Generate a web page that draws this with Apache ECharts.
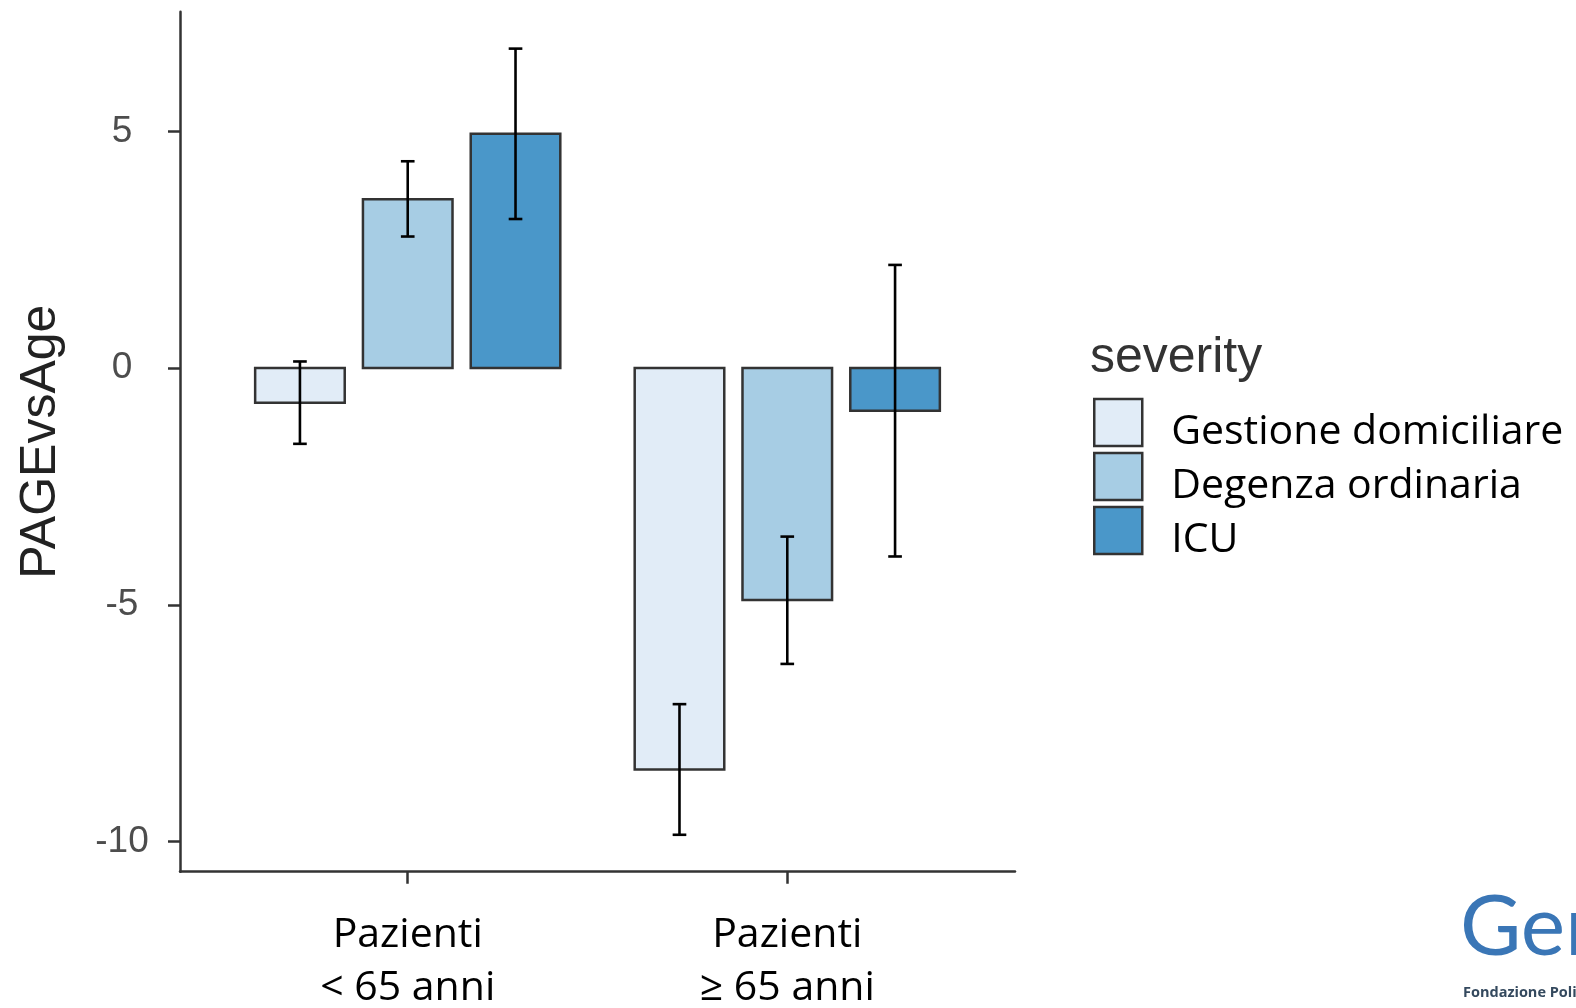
<!DOCTYPE html>
<html>
<head>
<meta charset="utf-8">
<script src="https://cdn.jsdelivr.net/npm/echarts@6/dist/echarts.min.js"></script>
<style>
  html, body { margin: 0; padding: 0; background: #ffffff; }
  #chart { width: 1576px; height: 1008px; }
</style>
</head>
<body>
<div id="chart"></div>
<script>
// Age groups on the x axis and severity classes shown as dodged bars
const groups = ['Pazienti\n< 65 anni', 'Pazienti\n≥ 65 anni'];
const severities = ['Gestione domiciliare', 'Degenza ordinaria', 'ICU'];

// Mean PAGEvsAge per group, with the lower / upper ends of the error bars
const gestioneMean = [-0.73, -8.48];
const gestioneLow  = [-1.60, -9.86];
const gestioneHigh = [0.14, -7.10];

const degenzaMean = [3.57, -4.90];
const degenzaLow  = [2.78, -6.25];
const degenzaHigh = [4.37, -3.56];

const icuMean = [4.95, -0.90];
const icuLow  = [3.15, -3.98];
const icuHigh = [6.75, 2.18];

const yTicks = [-10, -5, 0, 5];

const fills = ['#e1ecf7', '#a7cde4', '#4a97c9'];
const EDGE = '#333333';
const DODGE = 0.284;   // distance between neighbouring bars (x units)
const BAR_W = 0.236;   // bar width (x units)
const CAP_W = 0.036;   // error bar cap width (x units)

function barSeries(name, slot, mean, low, high, fill) {
  const data = mean.map((m, i) => [i + 1, m, low[i], high[i]]);
  return {
    type: 'custom',
    name: name,
    data: data,
    itemStyle: { color: fill, borderColor: EDGE, borderWidth: 2.5 },
    encode: { x: 0, y: [1, 2, 3] },
    renderItem: function (params, api) {
      const x = api.value(0) + (slot - 1) * DODGE;
      const m = api.value(1), lo = api.value(2), hi = api.value(3);
      const a = api.coord([x - BAR_W / 2, 0]);
      const b = api.coord([x + BAR_W / 2, m]);
      const top = api.coord([x, hi]);
      const bot = api.coord([x, lo]);
      const cl = api.coord([x - CAP_W / 2, hi])[0];
      const cr = api.coord([x + CAP_W / 2, hi])[0];
      const err = { stroke: '#000000', lineWidth: 2.6 };
      return {
        type: 'group',
        children: [
          {
            type: 'rect',
            shape: {
              x: Math.min(a[0], b[0]), y: Math.min(a[1], b[1]),
              width: Math.abs(b[0] - a[0]), height: Math.abs(b[1] - a[1])
            },
            style: { fill: fill, stroke: EDGE, lineWidth: 2.5 }
          },
          { type: 'line', shape: { x1: top[0], y1: top[1], x2: bot[0], y2: bot[1] }, style: err },
          { type: 'line', shape: { x1: cl, y1: top[1], x2: cr, y2: top[1] }, style: err },
          { type: 'line', shape: { x1: cl, y1: bot[1], x2: cr, y2: bot[1] }, style: err }
        ]
      };
    }
  };
}

const chart = echarts.init(document.getElementById('chart'), null, { renderer: 'canvas' });

chart.setOption({
  backgroundColor: '#ffffff',
  animation: false,
  grid: { left: 180, right: 561, top: 11.7, bottom: 136.3, outerBoundsMode: 'none', containLabel: false },
  xAxis: {
    type: 'value',
    min: 0.4,
    max: 2.6,
    splitLine: { show: false },
    axisLine: { show: true, onZero: false, lineStyle: { color: EDGE, width: 2.5 } },
    axisTick: { show: true, length: 12, customValues: [1, 2], lineStyle: { color: EDGE, width: 2.5 } },
    axisLabel: {
      customValues: [1, 2],
      formatter: function (v) { return groups[Math.round(v) - 1]; },
      margin: 37,
      fontFamily: 'Open Sans',
      fontSize: 41,
      lineHeight: 53,
      color: '#000000'
    }
  },
  yAxis: {
    type: 'value',
    min: -10.64,
    max: 7.53,
    name: 'PAGEvsAge',
    nameLocation: 'middle',
    nameRotate: 90,
    nameGap: 114,
    nameTextStyle: { fontFamily: 'Liberation Sans', fontSize: 50, color: '#222222' },
    splitLine: { show: false },
    axisLine: { show: true, onZero: false, lineStyle: { color: EDGE, width: 2.5 } },
    axisTick: { show: true, length: 12, customValues: yTicks, lineStyle: { color: EDGE, width: 2.5 } },
    axisLabel: {
      customValues: yTicks,
      formatter: function (v) { return String(v); },
      margin: 58,
      align: 'center',
      fontFamily: 'Liberation Sans',
      fontSize: 37,
      color: '#4d4d4d'
    }
  },
  legend: {
    orient: 'vertical',
    left: 1093,
    top: 392,
    padding: 0,
    itemWidth: 48,
    itemHeight: 47,
    itemGap: -7,
    icon: 'rect',
    selectedMode: false,
    formatter: function (name) { return '{s| }{t|' + name + '}'; },
    textStyle: {
      fontFamily: 'Open Sans',
      fontSize: 41,
      color: '#000000',
      rich: {
        s: { width: 24, height: 61, lineHeight: 61, fontSize: 10 },
        t: { fontFamily: 'Open Sans', fontSize: 41, lineHeight: 47, verticalAlign: 'bottom', color: '#000000' }
      }
    },
    data: severities.map(function (n, i) {
      return { name: n, itemStyle: { color: fills[i], borderColor: EDGE, borderWidth: 2.5 } };
    })
  },
  graphic: [
    {
      type: 'text',
      left: 1090,
      top: 333,
      style: { text: 'severity', font: '50px "Liberation Sans"', fill: '#333333' }
    },
    {
      type: 'text',
      left: 1460,
      top: 886,
      style: { text: 'Gemelli', font: '84px "Lato"', fill: '#3a76b6' }
    },
    {
      type: 'text',
      left: 1463,
      top: 985,
      style: { text: 'Fondazione Policlinico Universitario', font: 'bold 14.5px "Open Sans"', fill: '#34495e' }
    }
  ],
  series: [
    barSeries(severities[0], 0, gestioneMean, gestioneLow, gestioneHigh, fills[0]),
    barSeries(severities[1], 1, degenzaMean, degenzaLow, degenzaHigh, fills[1]),
    barSeries(severities[2], 2, icuMean, icuLow, icuHigh, fills[2])
  ]
});
</script>
</body>
</html>
